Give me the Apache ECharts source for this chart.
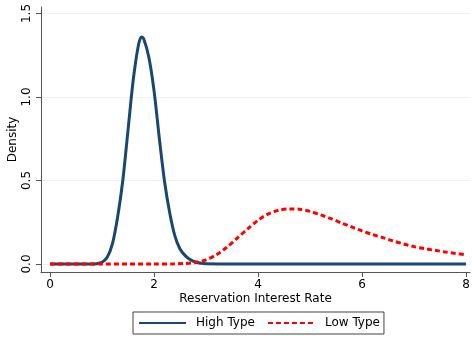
<!DOCTYPE html>
<html>
<head>
<meta charset="utf-8">
<script src="https://cdn.jsdelivr.net/npm/echarts@6/dist/echarts.min.js"></script>
<style>html,body{margin:0;padding:0;background:#fff}#c{width:472px;height:339px}</style>
</head>
<body>
<div id="c"></div>
<script>
var seriesNames = ['High Type', 'Low Type'];
var xTicks = [0, 2, 4, 6, 8];
var yTicks = [0, 0.5, 1.0, 1.5];

var highX = [0, 0.5, 0.8, 0.9, 1.0, 1.1, 1.2, 1.3, 1.4, 1.5, 1.6, 1.7, 1.76, 1.8, 1.9, 2.0, 2.1, 2.2, 2.3, 2.4, 2.5, 2.6, 2.7, 2.8, 2.9, 3.0, 3.5, 4, 5, 6, 7, 8];
var highY = [0, 0, 0, 0.002, 0.01, 0.04, 0.12, 0.28, 0.50, 0.80, 1.10, 1.31, 1.36, 1.35, 1.24, 1.04, 0.76, 0.50, 0.31, 0.17, 0.09, 0.05, 0.025, 0.012, 0.005, 0.002, 0, 0, 0, 0, 0, 0];

var lowX = [0, 1, 2, 2.4, 2.6, 2.8, 3.0, 3.2, 3.4, 3.6, 3.8, 4.0, 4.2, 4.4, 4.6, 4.8, 5.0, 5.2, 5.4, 5.6, 5.8, 6.0, 6.2, 6.4, 6.6, 6.8, 7.0, 7.2, 7.4, 7.6, 7.8, 8.0];
var lowY = [0, 0, 0, 0.001, 0.003, 0.009, 0.025, 0.055, 0.10, 0.155, 0.21, 0.262, 0.30, 0.322, 0.33, 0.328, 0.315, 0.295, 0.272, 0.246, 0.222, 0.198, 0.177, 0.158, 0.138, 0.12, 0.104, 0.092, 0.082, 0.072, 0.063, 0.055];

function pairs(xs, ys) { return xs.map(function (x, i) { return [x, ys[i]]; }); }

var font = 'DejaVu Sans';
var chart = echarts.init(document.getElementById('c'), null, {renderer: 'canvas'});
chart.setOption({
  animation: false,
  backgroundColor: '#ffffff',
  textStyle: {fontFamily: font, color: '#000'},
  grid: {left: 41, right: 2, top: 7, bottom: 67, containLabel: false, outerBoundsMode: 'none'},
  xAxis: {
    type: 'value',
    min: -0.173, max: 8.077,
    name: 'Reservation Interest Rate',
    nameLocation: 'middle',
    nameGap: 21,
    nameMoveOverlap: false,
    nameTextStyle: {fontFamily: font, fontSize: 12, color: '#000'},
    axisLine: {show: true, onZero: false, lineStyle: {color: '#555', width: 1}},
    axisTick: {show: true, length: 5, customValues: xTicks, lineStyle: {color: '#555'}},
    axisLabel: {customValues: xTicks, margin: 7, fontFamily: font, fontSize: 12, color: '#000',
      formatter: function (v) { return String(v); }},
    splitLine: {show: false}
  },
  yAxis: {
    type: 'value',
    min: -0.048, max: 1.539,
    name: 'Density',
    nameLocation: 'middle',
    nameGap: 22,
    nameMoveOverlap: false,
    nameTextStyle: {fontFamily: font, fontSize: 12, color: '#000'},
    axisLine: {show: true, onZero: false, lineStyle: {color: '#555', width: 1}},
    axisTick: {show: true, length: 5, customValues: yTicks, lineStyle: {color: '#555'}},
    axisLabel: {customValues: yTicks, rotate: 90, margin: 8, fontFamily: font, fontSize: 12, color: '#000',
      formatter: function (v) { return v.toFixed(1); }},
    splitLine: {show: true, lineStyle: {color: '#eaf2f3', width: 1}}
  },
  legend: {
    show: true,
    left: 133, bottom: 5,
    orient: 'horizontal',
    data: seriesNames,
    itemWidth: 47, itemHeight: 12, itemGap: 12,
    padding: [5, 4, 5, 5],
    borderColor: '#444', borderWidth: 1, borderRadius: 0,
    backgroundColor: '#fff',
    itemStyle: {color: 'rgba(0,0,0,0)', borderWidth: 0, opacity: 0},
    textStyle: {fontFamily: font, fontSize: 12, color: '#000', padding: [0, 0, 0, 5]}
  },
  series: [
    {
      name: seriesNames[0], type: 'line', data: pairs(highX, highY),
      smooth: 0.3, symbol: 'none', showSymbol: false, z: 3,
      lineStyle: {color: '#1a476f', width: 3}, itemStyle: {color: '#1a476f'}
    },
    {
      name: seriesNames[1], type: 'line', data: pairs(lowX, lowY),
      smooth: 0.3, symbol: 'none', showSymbol: false, z: 4,
      lineStyle: {color: '#ff0000', width: 3, type: [5, 3]}, itemStyle: {color: '#ff0000'}
    }
  ]
});
</script>
</body>
</html>
